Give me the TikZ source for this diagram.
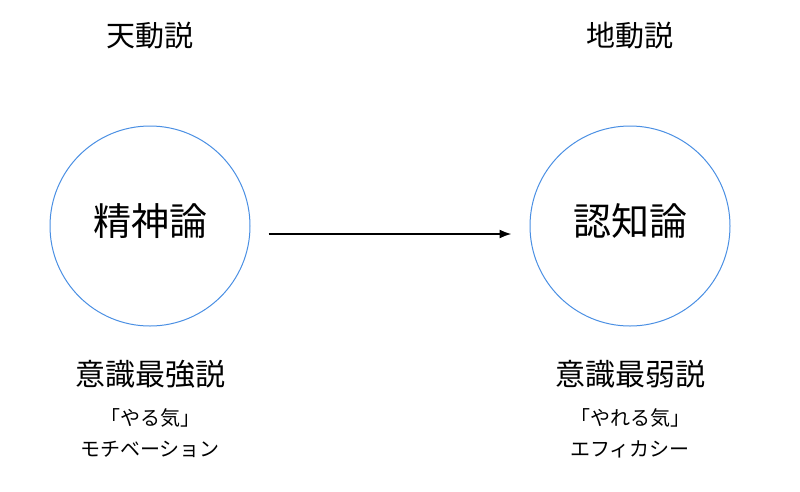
\documentclass[tikz,border=0pt]{standalone}
\usepackage{fontspec}
\setmainfont{Noto Sans CJK JP}
\usetikzlibrary{arrows.meta,calc}
\definecolor{CircleClr}{rgb}{0.29,0.56,0.89}

\begin{document}
\begin{tikzpicture}[x=1pt,y=-1pt]
\tikzset{
  ronbox/.style={circle,draw=CircleClr,line width=1pt,minimum size=200pt,inner sep=0pt,font=\fontsize{38}{42}\selectfont},
  titlelbl/.style={font=\fontsize{29}{32}\selectfont},
  setsulbl/.style={font=\fontsize{30}{33}\selectfont},
  sublbl/.style={font=\fontsize{20}{24}\selectfont}
}
\useasboundingbox (0,0) rectangle (800,491);

% left side
\node[titlelbl] (tendo) at (150,36) {天動説};
\node[ronbox] (seishin) at (150,226) {\raisebox{12pt}{精神論}};
\node[setsulbl] (saikyo) at (150,374) {意識最強説};
\node[sublbl] (yaruki) at (150,418) {「やる気」};
\node[sublbl] (motiv) at (150,449) {モチベーション};

% right side
\node[titlelbl] (chido) at (630,36) {地動説};
\node[ronbox] (ninchi) at (630,226) {\raisebox{12pt}{認知論}};
\node[setsulbl] (saijaku) at (630,374) {意識最弱説};
\node[sublbl] (yareru) at (630,418) {「やれる気」};
\node[sublbl] (efficacy) at (630,449) {エフィカシー};

\draw[line width=1.8pt,-{Latex[length=12pt,width=9pt]}]
  ($(seishin.east)+(18,8)$) -- ($(ninchi.west)+(-18,8)$);

\end{tikzpicture}
\end{document}
